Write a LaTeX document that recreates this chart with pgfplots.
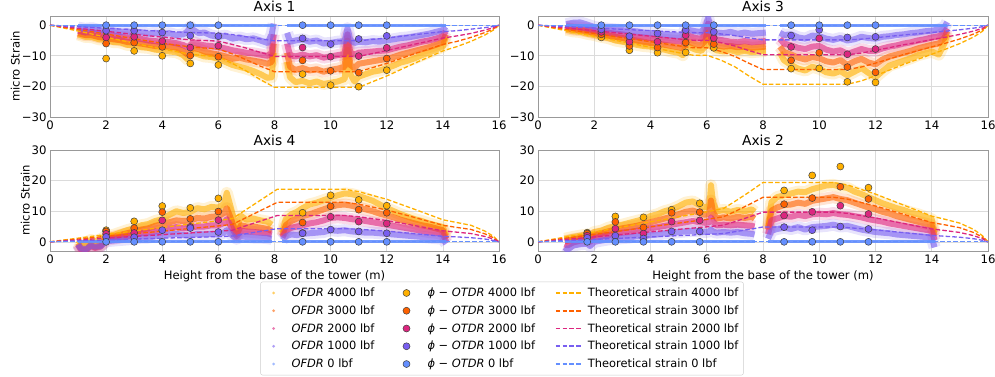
\documentclass[border=0pt]{standalone}
\usepackage{pgfplots}
\pgfplotsset{compat=1.18}
\usepackage{pgfplotstable}
\usepackage{fontspec}
\setmainfont{DejaVu Sans}

\definecolor{c0}{HTML}{648FFF}
\definecolor{c1}{HTML}{785EF0}
\definecolor{c2}{HTML}{DC267F}
\definecolor{c3}{HTML}{FE6100}
\definecolor{c4}{HTML}{FFB000}

% ---------------- OFDR (a=4000, b=3000, c=2000, d=1000, e=0 lbf)
\pgfplotstableread{
x a b c d e
1.0 -3.0 -2.6 -1.8 -0.8 0
1.25 -3.8 -3.2 -2.4 -1.2 0
1.5 -3.9 -3.3 -2.3 -1.0 0
1.75 -4.6 -3.9 -2.9 -1.6 0
2.0 -4.8 -4.2 -3.2 -1.8 0
2.25 -5.5 -4.6 -3.4 -1.7 0
2.5 -5.6 -4.9 -3.8 -2.2 0
2.75 -6.4 -5.5 -4.0 -2.0 0
3.0 -6.6 -5.7 -4.3 -2.5 0
3.25 -7.2 -6.0 -4.5 -2.3 0
3.5 -7.4 -6.4 -5.0 -2.8 0
3.75 -8.0 -6.8 -5.2 -2.5 0
4.0 -8.2 -7.0 -5.6 -3.0 0
4.25 -8.6 -7.0 -5.5 -2.6 0
4.5 -8.8 -7.3 -5.9 -3.2 0
4.75 -9.8 -8.5 -6.5 -3.0 0
4.9 -11.2 -9.6 -7.2 -2.0 0
5.0 -10.0 -8.5 -6.5 -0.5 0
5.1 -9.0 -7.5 -5.5 -1.5 0
5.3 -9.6 -7.8 -6.2 -2.6 0
5.5 -10.2 -8.6 -6.6 -2.4 0
5.75 -10.4 -9.2 -6.8 -3.4 0
6.0 -11.0 -9.6 -7.2 -3.8 0
6.25 -12.0 -10.2 -7.6 -3.4 0
6.5 -13.0 -11.0 -8.2 -4.4 0
6.75 -13.6 -10.6 -8.6 -4.0 0
7.0 -14.2 -11.2 -9.0 -4.6 0
7.25 -15.0 -11.6 -9.2 -4.3 0
7.5 -16.0 -12.0 -9.6 -5.0 0
7.75 -17.2 -12.6 -10.0 -5.8 0
7.9 -17.0 -12.0 -9.0 -3.0 0
7.97 -9.0 -6.0 -3.0 0.5 0
8.2 nan nan nan nan nan
8.45 -12.0 -9.0 -6.0 -2.5 0
8.55 -17.0 -13.6 -9.8 -5.4 0
8.75 -18.6 -14.6 -10.2 -5.0 0
9.0 -18.2 -14.0 -9.6 -4.6 0
9.25 -19.0 -14.8 -10.2 -5.4 0
9.5 -18.4 -14.4 -9.8 -5.0 0
9.75 -19.2 -15.2 -10.6 -6.0 0
10.0 -18.8 -14.6 -10.2 -5.8 0
10.25 -18.4 -14.2 -9.8 -5.4 0
10.5 -17.6 -13.6 -9.4 -5.2 0
10.6 -8.0 -5.0 -3.0 -1.0 0
10.7 -16.0 -13.0 -9.0 -4.8 0
10.85 -18.4 -14.0 -9.6 -5.8 0
11.0 -16.8 -12.6 -9.0 -5.4 0
11.25 -16.0 -12.2 -8.8 -5.6 0
11.5 -15.2 -11.8 -8.6 -5.2 0
11.75 -14.8 -11.4 -8.4 -5.4 0
12.0 -14.0 -11.0 -8.2 -5.0 0
12.25 -13.2 -10.4 -7.6 -4.6 0
12.5 -12.2 -9.6 -7.0 -4.2 0
12.75 -11.6 -9.0 -6.6 -4.0 0
13.0 -10.8 -8.4 -6.0 -3.6 0
13.25 -9.8 -7.8 -5.4 -3.2 0
13.5 -9.0 -7.2 -5.0 -2.8 0
13.75 -8.0 -6.4 -4.4 -2.2 0
14.0 -7.0 -5.6 -3.6 -1.6 0
14.1 -4.0 -3.0 -2.0 -0.5 0
}\ofdrA

\pgfplotstableread{
x a b c d e
1.0 -1.5 -1.0 -0.4 0.3 0
1.25 -2.0 -1.4 -0.6 0.8 0
1.5 -2.2 -1.6 -0.8 0.9 0
1.75 -2.8 -2.0 -1.2 0.2 0
2.0 -3.2 -2.6 -1.8 -0.6 0
2.25 -3.8 -3.0 -2.0 -0.9 0
2.5 -4.2 -3.4 -2.5 -1.2 0
2.75 -5.0 -3.8 -2.8 -1.4 0
3.0 -5.4 -4.2 -3.0 -1.6 0
3.25 -5.8 -4.6 -3.4 -1.9 0
3.5 -6.4 -5.0 -3.8 -2.0 0
3.75 -6.8 -5.4 -4.0 -2.4 0
4.0 -7.0 -5.8 -4.2 -2.6 0
4.25 -7.6 -6.0 -4.6 -2.8 0
4.5 -8.0 -6.4 -4.8 -3.0 0
4.75 -8.6 -6.8 -5.0 -3.2 0
5.0 -9.0 -7.2 -5.2 -3.4 0
5.15 -9.8 -7.6 -5.4 -3.0 0
5.25 -6.5 -5.0 -3.0 -1.0 0
5.4 -7.2 -5.6 -3.6 -1.6 0
5.6 -8.0 -6.2 -4.2 -2.0 0
5.8 -8.4 -6.6 -4.4 -2.2 0
5.95 -7.0 -5.0 -3.0 -0.5 0
6.05 -2.0 -1.0 0.5 2.5 0
6.15 -7.0 -6.0 -4.2 -2.0 0
6.35 -8.2 -6.6 -4.6 -2.4 0
6.6 -8.6 -7.0 -5.0 -2.6 0
6.85 -8.2 -6.8 -5.4 -2.2 0
7.1 -8.8 -7.2 -5.6 -2.8 0
7.35 -8.4 -7.0 -5.2 -2.4 0
7.6 -8.8 -7.4 -5.6 -2.8 0
7.85 -8.6 -7.2 -5.4 -2.6 0
8.1 -8.4 -7.0 -5.2 -2.4 0
8.3 nan nan nan nan nan
8.6 -9.0 -7.0 -4.5 -2.5 0
8.75 -11.5 -8.8 -6.0 -3.2 0
9.0 -13.0 -9.6 -6.6 -3.0 0
9.25 -14.2 -10.6 -7.4 -4.0 0
9.5 -14.8 -11.2 -7.8 -4.4 0
9.75 -13.6 -10.4 -7.0 -3.4 0
10.0 -14.2 -10.8 -6.8 -3.6 0
10.25 -15.4 -11.8 -8.0 -4.4 0
10.5 -15.8 -12.2 -8.6 -4.8 0
10.75 -15.0 -11.4 -8.2 -4.2 0
11.0 -16.4 -13.0 -9.4 -5.0 0
11.25 -15.2 -11.8 -8.6 -4.6 0
11.5 -14.0 -11.0 -7.8 -3.8 0
11.75 -15.6 -12.2 -8.4 -4.2 0
12.0 -17.0 -12.8 -8.4 -4.4 0
12.25 -15.0 -11.2 -7.6 -3.8 0
12.5 -13.2 -10.2 -7.0 -3.6 0
12.75 -12.4 -9.6 -6.6 -3.2 0
13.0 -11.6 -9.0 -6.0 -3.0 0
13.25 -10.8 -8.4 -5.6 -2.6 0
13.5 -9.8 -7.6 -5.0 -2.4 0
13.75 -9.2 -7.0 -4.6 -2.0 0
14.0 -8.6 -6.4 -4.0 -1.8 0
14.25 -9.6 -6.0 -3.6 -1.4 0
14.45 -6.0 -4.2 -2.4 -0.6 0
14.55 -3.0 -2.0 -1.0 1.0 0
}\ofdrC

\pgfplotstableread{
x a b c d e
1.0 0.5 -0.5 -1.0 -0.8 0
1.1 -0.5 -2.2 -2.6 -2.2 0
1.3 -0.2 -2.4 -2.6 -2.4 0
1.45 0.6 -1.0 -1.4 -1.2 0
1.6 0.2 -1.8 -2.0 -1.6 0
1.8 0.8 -1.2 -1.6 -1.4 0
2.0 2.0 1.2 0.6 0.2 0
2.25 2.2 1.6 1.0 0.4 0
2.5 3.0 2.2 1.4 0.6 0
2.75 3.8 2.8 1.8 0.8 0
3.0 4.4 3.4 2.2 1.0 0
3.25 5.4 4.0 2.8 1.4 0
3.5 5.8 4.4 3.0 1.4 0
3.75 6.8 5.2 3.4 1.8 0
4.0 7.4 5.8 3.8 2.0 0
4.25 8.8 6.4 4.4 2.4 0
4.5 10.0 7.0 4.8 2.6 0
4.75 9.4 6.8 4.4 2.2 0
5.0 9.8 7.0 4.6 2.0 0
5.25 11.0 7.8 5.0 2.6 0
5.5 10.6 7.6 5.0 2.4 0
5.75 11.4 8.2 5.4 2.6 0
6.0 11.2 8.4 5.4 2.4 0
6.2 12.4 9.4 6.2 3.0 0
6.3 16.0 11.0 7.4 3.8 0
6.45 11.0 7.5 5.0 2.4 0
6.65 4.0 2.4 1.8 1.0 0
6.8 8.5 5.4 3.6 1.8 0
7.0 7.2 5.0 3.4 1.6 0
7.25 7.6 5.0 3.2 1.4 0
7.5 7.0 4.6 3.0 1.4 0
7.75 6.6 4.2 2.8 1.2 0
7.9 5.6 3.6 2.4 1.0 0
8.1 nan nan nan nan nan
8.28 3.0 2.0 1.4 0.6 0
8.4 7.4 5.4 3.6 1.8 0
8.6 9.0 6.8 4.6 2.4 0
8.8 9.8 7.6 5.0 2.2 0
9.0 11.0 8.4 5.4 2.6 0
9.25 12.2 9.0 6.0 2.8 0
9.5 12.8 9.8 6.4 3.0 0
9.75 13.6 10.6 7.0 3.2 0
10.0 14.4 11.4 7.8 3.8 0
10.25 15.2 12.0 8.0 3.6 0
10.5 15.8 12.2 7.8 3.8 0
10.75 15.6 11.8 7.4 3.4 0
11.0 15.0 11.2 7.2 3.2 0
11.25 14.2 10.6 6.8 3.0 0
11.5 13.4 10.0 6.4 3.0 0
11.75 12.2 9.2 6.0 2.8 0
12.0 11.0 8.6 5.6 2.6 0
12.25 10.0 8.0 5.2 2.4 0
12.5 9.0 7.2 4.8 2.2 0
12.75 8.2 6.6 4.4 2.0 0
13.0 7.4 6.0 4.0 1.8 0
13.25 6.8 5.4 3.6 1.6 0
13.5 6.0 5.0 3.2 1.4 0
13.75 5.4 4.4 3.0 1.2 0
14.0 4.8 3.8 2.6 1.0 0
14.12 2.0 1.0 0.0 -0.6 0
}\ofdrD

\pgfplotstableread{
x a b c d e
0.95 1.0 0.2 -0.8 -1.8 0
1.05 1.2 0.4 -1.2 -2.6 0
1.25 1.6 0.8 -0.2 -1.2 0
1.5 2.0 1.2 0.4 -0.8 0
1.75 2.4 1.6 0.6 -0.6 0
1.85 2.2 1.4 0.0 -1.4 0
2.0 3.2 2.2 1.2 0.0 0
2.25 3.6 2.8 1.8 0.4 0
2.5 4.6 3.4 2.2 0.8 0
2.75 5.2 4.0 2.6 1.0 0
3.0 5.6 4.4 3.0 1.2 0
3.25 6.2 4.8 3.2 1.4 0
3.5 6.8 5.2 3.6 1.8 0
3.75 7.4 5.8 4.0 1.8 0
4.0 8.4 6.4 4.4 2.2 0
4.25 9.0 7.0 4.8 2.4 0
4.5 10.0 7.6 5.2 2.8 0
4.75 10.6 8.2 5.6 2.8 0
5.0 11.6 9.0 6.0 3.2 0
5.25 12.8 9.8 6.4 3.4 0
5.5 13.2 10.2 6.8 3.6 0
5.75 12.0 9.4 6.4 3.4 0
5.95 11.2 8.8 6.2 3.2 0
6.1 12.0 9.6 6.4 3.4 0
6.15 18.5 13.5 8.0 4.0 0
6.22 13.0 9.8 6.6 3.4 0
6.35 10.0 7.6 5.4 3.0 0
6.6 10.4 8.0 5.6 3.2 0
6.85 9.8 7.6 5.4 3.0 0
7.1 10.4 8.2 5.6 3.2 0
7.35 10.0 7.8 5.4 2.8 0
7.6 10.6 8.2 5.2 2.6 0
7.7 9.8 7.6 5.0 2.4 0
7.9 nan nan nan nan nan
8.18 5.0 4.0 2.5 1.0 0
8.3 13.0 10.2 7.0 3.6 0
8.5 14.6 11.2 7.6 4.2 0
8.75 15.2 12.0 8.4 4.6 0
9.0 15.8 12.2 8.2 4.2 0
9.25 16.4 12.8 8.8 4.8 0
9.5 16.2 12.4 8.4 4.0 0
9.75 17.2 13.4 9.0 4.8 0
10.0 17.8 13.8 9.2 5.0 0
10.25 18.4 14.2 9.0 5.2 0
10.5 18.6 14.6 9.4 5.6 0
10.75 18.0 14.0 9.0 5.0 0
11.0 17.6 13.6 8.8 5.2 0
11.25 16.4 12.8 8.4 4.6 0
11.5 15.6 12.0 8.0 4.0 0
11.75 14.6 11.2 7.4 3.6 0
12.0 13.6 10.6 7.0 3.2 0
12.25 12.6 9.8 6.6 3.0 0
12.5 11.8 9.2 6.0 2.8 0
12.75 11.0 8.4 5.6 2.4 0
13.0 10.4 7.8 5.2 2.2 0
13.25 9.6 7.2 4.8 2.0 0
13.5 9.0 6.6 4.4 1.8 0
13.75 8.2 6.0 4.0 1.6 0
14.0 7.4 5.4 3.6 1.4 0
14.1 3.0 2.0 0.5 -1.8 0
}\ofdrB

% ---------------- Theoretical strain
\pgfplotstableread{
x a b c d
0 0 0 0 0
1 -1.9 -1.4 -1.0 -0.5
2 -3.9 -2.9 -2.0 -1.0
3 -5.9 -4.4 -3.0 -1.5
4 -7.8 -5.9 -3.9 -2.0
5 -9.5 -7.1 -4.8 -2.4
6 -10.4 -7.8 -5.2 -2.6
6.5 -12.5 -9.4 -6.3 -3.1
7 -15.0 -11.3 -7.5 -3.8
7.5 -17.8 -13.4 -8.9 -4.5
8 -20.3 -15.2 -10.2 -5.1
11 -20.3 -15.2 -10.2 -5.1
12 -16.6 -12.5 -8.3 -4.2
13 -12.4 -9.3 -6.2 -3.1
14 -8.4 -6.3 -4.2 -2.1
14.5 -7.0 -5.3 -3.5 -1.8
15 -5.3 -4.0 -2.7 -1.3
15.5 -3.2 -2.4 -1.6 -0.8
15.8 -1.6 -1.2 -0.8 -0.4
16 0 0 0 0
}\thA

\pgfplotstableread{
x a b c d
0 0 0 0 0
1 -1.8 -1.35 -0.9 -0.45
2 -3.6 -2.7 -1.8 -0.9
3 -5.4 -4.05 -2.7 -1.35
4 -7.2 -5.4 -3.6 -1.8
5 -9.0 -6.75 -4.5 -2.25
5.5 -9.8 -7.35 -4.9 -2.45
6 -9.8 -7.35 -4.9 -2.45
6.5 -11.4 -8.55 -5.7 -2.85
7 -13.6 -10.2 -6.8 -3.4
7.5 -16.6 -12.45 -8.3 -4.15
8 -19.3 -14.5 -9.65 -4.8
11 -19.3 -14.5 -9.65 -4.8
11.5 -18.2 -13.65 -9.1 -4.55
12 -16.5 -12.4 -8.25 -4.1
13 -12.8 -9.6 -6.4 -3.2
14 -9.5 -7.1 -4.75 -2.4
14.5 -7.8 -5.85 -3.9 -1.95
15 -6.0 -4.5 -3.0 -1.5
15.5 -3.8 -2.85 -1.9 -0.95
15.8 -2.0 -1.5 -1.0 -0.5
16 0 0 0 0
}\thC

\pgfplotstableread{
x a b c d
0 0 0 0 0
2 2.4 1.8 1.2 0.6
4 4.7 3.5 2.35 1.2
6 6.9 5.2 3.45 1.7
6.5 7.6 5.7 3.8 1.9
7 10.6 7.95 5.3 2.65
7.5 13.6 10.2 6.8 3.4
8.1 17.2 12.9 8.6 4.3
10.5 17.2 12.9 8.6 4.3
11 16.4 12.3 8.2 4.1
12 13.9 10.4 6.95 3.5
13 10.6 7.95 5.3 2.65
14 7.2 5.4 3.6 1.8
14.5 6.3 4.7 3.15 1.6
15 5.4 4.05 2.7 1.35
15.5 3.5 2.6 1.75 0.9
15.8 1.8 1.35 0.9 0.45
16 0 0 0 0
}\thD

\pgfplotstableread{
x a b c d
0 0 0 0 0
2 3.2 2.4 1.6 0.8
4 6.5 4.9 3.25 1.6
6 9.8 7.35 4.9 2.45
6.6 10.9 8.2 5.45 2.7
7 13.2 9.9 6.6 3.3
7.5 16.2 12.15 8.1 4.05
8 19.4 14.55 9.7 4.85
10.5 19.4 14.55 9.7 4.85
11 18.6 13.95 9.3 4.65
12 15.6 11.7 7.8 3.9
13 12.0 9.0 6.0 3.0
14 8.4 6.3 4.2 2.1
14.5 7.3 5.5 3.65 1.8
15 6.1 4.6 3.05 1.5
15.5 4.0 3.0 2.0 1.0
15.8 2.0 1.5 1.0 0.5
16 0 0 0 0
}\thB

% ---------------- phi-OTDR
\pgfplotstableread{
x a b c d e
2 -10.9 -6.0 -4.0 -1.8 0
3 -8.4 -5.7 -3.8 -1.8 0
4 -10.0 -7.1 -5.2 -2.4 0
5 -12.5 -9.9 -7.3 -3.4 0
6 -13.0 -10.3 -6.7 -3.6 0
9 -16.0 -11.5 -7.3 -4.3 0
10 -19.6 -14.9 -10.3 -6.2 0
11 -20.1 -15.5 -10.1 -4.5 0
12 -14.7 -10.9 -7.4 -3.5 0
}\otA

\pgfplotstableread{
x a b c d e
2.25 -4.0 -3.0 -2.2 -1.4 0
3.25 -8.2 -6.8 -5.4 -3.6 0
4.25 -9.0 -7.3 -5.4 -2.7 0
5.25 -8.9 -5.7 -3.3 -1.6 0
6.25 -7.4 -6.2 -4.2 -2.2 0
9 -14.2 -11.5 -7.1 -3.4 0
10 -14.1 -9.0 -4.3 -1.5 0
11 -18.5 -13.7 -9.5 -4.0 0
12 -18.7 -15.4 -7.8 -3.8 0
}\otC

\pgfplotstableread{
x a b c d e
2 3.8 3.4 2.6 1.6 0
3 6.7 4.5 2.9 1.5 0
4 11.7 9.7 7.0 3.8 0
5 11.1 7.5 4.9 4.5 0
6 14.2 9.9 7.1 3.2 0
9 9.5 6.3 2.9 2.8 0
10 15.2 11.6 8.2 4.0 0
11 13.7 10.5 6.6 3.4 0
12 11.8 9.5 6.0 2.8 0
}\otD

\pgfplotstableread{
x a b c d e
1.75 3.0 2.7 2.0 1.3 0
2.75 8.3 6.5 4.3 2.0 0
3.75 8.0 4.7 2.7 1.1 0
4.75 10.5 9.5 6.6 3.4 0
5.75 12.6 9.7 7.0 3.4 0
8.75 16.8 12.3 8.6 4.8 0
9.75 21.7 14.3 9.8 3.8 0
10.75 24.6 18.0 11.8 5.0 0
11.75 17.7 14.0 9.1 4.2 0
}\otB

\pgfplotsset{
  common/.style={scale only axis, height=101pt, xmin=0, xmax=16,
    xtick={0,2,...,16}, grid=major,
    grid style={black!14, line width=0.6pt},
    axis line style={black!40},
    major tick length=0pt,
    tick label style={font=\fontsize{11.7}{13}\selectfont},
    /pgf/number format/assume math mode=true,
    title style={font=\fontsize{13.8}{16}\selectfont, yshift=-5.5pt},
    label style={font=\fontsize{11.6}{13}\selectfont},
    ylabel shift=-5pt},
  neg/.style={ymin=-30, ymax=3, ytick={-30,-20,-10,0}, yticklabels={−30,−20,−10,0}},
  pos/.style={ymin=-3, ymax=30, ytick={0,10,20,30}},
  halo/.style={color=#1, no markers, line width=12pt, opacity=0.17,
    line join=round, unbounded coords=jump},
  band/.style={color=#1, no markers, line width=6pt, opacity=0.6,
    line join=round, unbounded coords=jump},
  zeroline/.style={color=c0, no markers, line width=3pt, opacity=0.9, unbounded coords=jump},
  theo/.style={color=#1, draw=#1, no markers, line width=1.3pt, dash pattern=on 4.5pt off 2.2pt},
  otdr/.style={only marks, mark=*, mark size=3.5pt,
    mark options={fill=#1, draw=black!75, line width=0.5pt}},
  theolegend/.style={legend image code/.code={%
      \path[draw=none] (0pt,0pt) -- (30pt,0pt);
      \draw[##1, line width=1.6pt] (0pt,0pt) -- (25pt,0pt);}},
  marklegend/.style={legend image code/.code={%
      \path[draw=none] (0pt,0pt) -- (29pt,0pt);
      \draw[##1] plot coordinates {(10pt,0pt)};}},
  ofdrlegend/.style={legend image code/.code={%
      \path[draw=none] (0pt,0pt) -- (26pt,0pt);
      \fill[draw=none, fill=#1, opacity=0.6] (10pt,0pt) circle (1.5pt);}},
}

\newcommand{\drawset}[3]{%
  \addplot[halo=c4] table[x=x,y=a]{#1};
  \addplot[halo=c3] table[x=x,y=b]{#1};
  \addplot[halo=c2] table[x=x,y=c]{#1};
  \addplot[halo=c1] table[x=x,y=d]{#1};
  \addplot[band=c4] table[x=x,y=a]{#1};
  \addplot[band=c3] table[x=x,y=b]{#1};
  \addplot[band=c2] table[x=x,y=c]{#1};
  \addplot[band=c1] table[x=x,y=d]{#1};
  \addplot[zeroline] table[x=x,y=e]{#1};
  \addplot[theo=c4] table[x=x,y=a]{#2};
  \addplot[theo=c3] table[x=x,y=b]{#2};
  \addplot[theo=c2] table[x=x,y=c]{#2};
  \addplot[theo=c1] table[x=x,y=d]{#2};
  \addplot[theo=c0] coordinates {(0,0) (16,0)};
  \addplot[otdr=c4] table[x=x,y=a]{#3};
  \addplot[otdr=c3] table[x=x,y=b]{#3};
  \addplot[otdr=c2] table[x=x,y=c]{#3};
  \addplot[otdr=c1] table[x=x,y=d]{#3};
  \addplot[otdr=c0] table[x=x,y=e]{#3};
}

\newcommand{\legrow}[2]{%
  \addlegendimage{ofdrlegend=#1}
  \addlegendentry{\textit{OFDR} #2 lbf}
  \addlegendimage{otdr=#1, marklegend}
  \addlegendentry{\textit{ϕ} − \textit{OTDR} #2 lbf}
  \addlegendimage{theo=#1, theolegend}
  \addlegendentry{Theoretical strain #2 lbf}
}

\begin{document}
\begin{tikzpicture}[x=1pt,y=1pt]
\useasboundingbox (0,0) rectangle (995,376);

\begin{axis}[common, neg, at={(50pt,259pt)}, anchor=south west, width=449pt,
  title={Axis 1}, ylabel={micro Strain}]
  \drawset{\ofdrA}{\thA}{\otA}
\end{axis}

\begin{axis}[common, neg, at={(538pt,259pt)}, anchor=south west, width=450pt,
  title={Axis 3}]
  \drawset{\ofdrC}{\thC}{\otC}
\end{axis}

\begin{axis}[common, pos, at={(50pt,125pt)}, anchor=south west, width=449pt,
  title={Axis 4}, ylabel={micro Strain}, xlabel={Height from the base of the tower (m)}]
  \drawset{\ofdrD}{\thD}{\otD}
\end{axis}

\begin{axis}[common, pos, at={(538pt,125pt)}, anchor=south west, width=450pt,
  title={Axis 2}, xlabel={Height from the base of the tower (m)}]
  \drawset{\ofdrB}{\thB}{\otB}
\end{axis}

\begin{axis}[at={(258pt,3pt)}, anchor=south west, scale only axis,
  width=488pt, height=89pt, hide axis, xmin=0, xmax=1, ymin=0, ymax=1,
  legend columns=3, legend cell align=left,
  legend style={at={(0.5,0.5)}, anchor=center, draw=black!20, rounded corners=2pt,
    font=\fontsize{11.4}{13}\selectfont, row sep=3.6pt, inner xsep=3pt, inner ysep=4pt,
    /tikz/column 2/.append style={column sep=20pt},
    /tikz/column 4/.append style={column sep=18pt}}]
  \legrow{c4}{4000}
  \legrow{c3}{3000}
  \legrow{c2}{2000}
  \legrow{c1}{1000}
  \legrow{c0}{0}
\end{axis}
\end{tikzpicture}
\end{document}
